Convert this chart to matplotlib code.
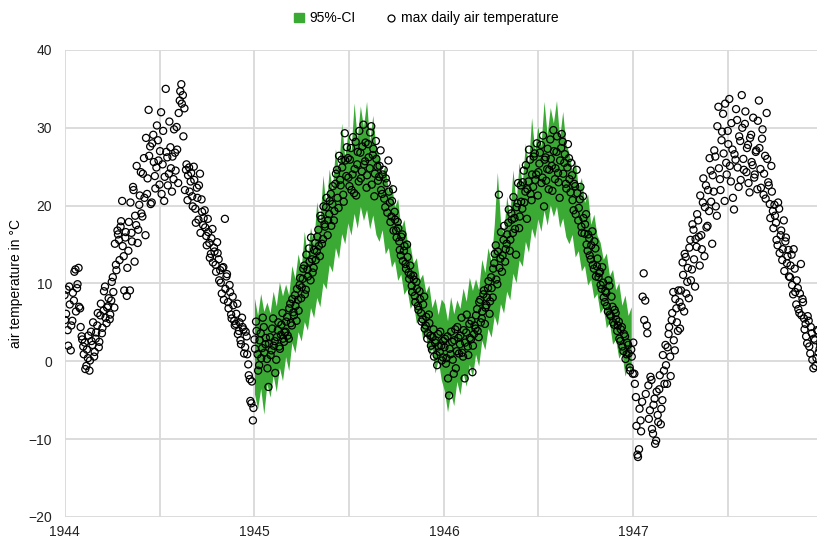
import pandas as pd
import matplotlib
matplotlib.use("Agg")
import matplotlib.pyplot as plt
from matplotlib.lines import Line2D
from matplotlib.patches import Patch

# max daily air temperature in deg C, readings every 3rd day (1 Jan, 4 Jan, ...)
temp_1944 = [
    8.5, 6.1, 4.0, 9.6, 1.4, 5.2, 7.8, 11.8, 9.4, 12.0,
    6.8, 3.2, 1.9, 2.4, -0.6, 0.4, -1.2, 3.8, 2.1, 0.6,
    2.9, 4.6, 1.8, 5.9, 3.6, 6.5, 9.6, 4.9, 7.1, 5.4,
    7.8, 10.8, 6.9, 12.4, 16.8, 15.6, 17.3, 20.6, 13.5, 15.9,
    8.4, 14.2, 9.1, 16.5, 22.4, 12.8, 17.5, 15.2, 20.1, 24.3,
    18.6, 26.1, 16.2, 21.5, 32.3, 27.6, 20.4, 29.1, 23.8, 24.9,
    28.4, 22.7, 32.0, 25.3, 20.6, 35.0, 26.2, 24.1, 27.5, 21.8,
    23.4, 26.8, 30.1, 22.9, 33.5, 35.6, 34.2, 32.5, 24.6, 20.7,
    24.9, 23.1, 21.2, 25.0, 19.6, 22.3, 18.2, 24.1, 20.8, 17.5,
    19.4, 16.1, 18.3, 15.2, 13.8, 17.0, 14.6, 12.4, 15.3, 13.1,
    11.7, 8.7, 12.1, 18.3, 10.9, 7.6, 9.8, 6.0, 8.3, 5.2,
    4.8, 7.4, 3.9, 2.7, 5.6, 4.1, 1.8, 3.2, -0.4, -2.3,
    -5.4, -7.6,
]
temp_1945 = [
    2.8, 5.1, 0.9, -0.5, 3.6, 1.7, 4.4, 2.2, 0.3, -3.3,
    3.1, 1.4, 5.5, 2.6, 0.2, 4.0, 1.9, 3.4, 6.2, 2.5,
    3.8, 5.7, 2.9, 7.4, 4.6, 6.3, 8.5, 5.2, 7.9, 9.8,
    8.1, 10.6, 12.3, 9.2, 11.8, 14.5, 10.4, 13.1, 12.0, 15.2,
    14.1, 16.9, 13.5, 18.3, 15.7, 17.6, 19.8, 16.2, 18.9, 21.5,
    20.2, 18.1, 22.8, 24.6, 19.7, 23.3, 25.9, 21.4, 29.3, 23.8,
    26.1, 22.5, 27.4, 24.0, 21.6, 28.2, 25.3, 23.1, 26.8, 24.4,
    30.4, 25.7, 22.3, 27.9, 24.8, 30.2, 26.5, 21.2, 28.3, 25.0,
    23.7, 27.1, 21.5, 24.6, 19.8, 22.9, 25.8, 20.4, 18.6, 22.1,
    19.2, 16.8, 17.9, 15.4, 13.6, 16.3, 14.2, 12.5, 15.0, 11.4,
    12.3, 9.7, 11.0, 8.4, 10.2, 7.1, 9.0, 6.2, 5.4, 8.3,
    4.6, 2.9, 6.0, 3.3, 1.5, 4.1, 2.4, 0.8, 3.5, 1.2,
    2.0, 0.5,
]
temp_1946 = [
    1.8, -0.3, 3.2, -4.4, 0.9, 2.5, -1.6, 4.1, 1.3, 3.0,
    2.2, 5.6, 0.6, -2.2, 3.7, 1.9, 4.8, 2.8, -1.4, 3.5,
    4.2, 6.7, 3.1, 7.9, 5.5, 8.6, 4.8, 7.2, 9.4, 6.1,
    10.8, 8.2, 12.6, 14.9, 9.9, 21.4, 13.2, 11.5, 15.6, 12.8,
    15.1, 17.8, 14.2, 19.0, 16.5, 18.4, 13.7, 20.3, 17.1, 22.6,
    19.6, 24.5, 21.8, 18.3, 23.1, 25.9, 20.7, 22.4, 26.7, 24.0,
    21.3, 25.4, 27.8, 23.6, 19.9, 26.2, 24.7, 22.1, 28.5, 25.1,
    29.7, 23.4, 26.9, 24.2, 21.0, 27.4, 28.2, 25.5, 22.8, 24.9,
    26.1, 21.7, 23.9, 19.4, 22.5, 24.6, 18.1, 20.8, 17.3, 21.2,
    16.4, 18.9, 14.2, 15.8, 13.1, 16.7, 11.9, 14.5, 12.2, 10.8,
    11.5, 9.3, 10.1, 7.6, 8.8, 6.4, 9.7, 5.8, 7.0, 4.7,
    6.2, 3.9, 5.1, 2.6, 4.4, 1.3, 3.2, 0.9, 2.1, -0.8,
    1.5, -1.6,
]
temp_1947 = [
    -1.6, -4.6, -12.0, -11.3, -7.6, -5.2, 11.3, 7.8, 4.6, -3.1,
    -6.3, -2.4, -9.3, -4.8, -10.2, -6.9, -3.6, -8.1, -5.0, -1.2,
    2.1, -2.9, 3.5, 0.6, 5.3, 8.9, 1.4, 6.8, 3.9, 7.6,
    9.1, 12.7, 6.4, 13.4, 10.2, 8.1, 15.6, 11.8, 16.9, 9.6,
    14.7, 18.1, 12.3, 16.2, 20.4, 13.5, 22.6, 17.4, 19.3, 24.5,
    15.1, 21.8, 26.3, 18.7, 32.7, 23.4, 28.4, 31.8, 20.6, 25.5,
    29.6, 33.7, 23.1, 27.2, 19.5, 25.9, 31.0, 22.4, 28.3, 34.2,
    26.0, 30.5, 24.3, 27.8, 21.7, 29.1, 25.2, 23.6, 26.9, 22.1,
    33.5, 24.7, 28.6, 21.4, 26.4, 31.9, 23.0, 20.2, 25.1, 19.3,
    20.1, 17.8, 14.9, 19.6, 16.2, 13.0, 18.1, 15.4, 12.6, 14.3,
    10.8, 13.7, 8.6, 11.9, 7.3, 9.4, 6.2, 12.5, 8.0, 5.5,
    4.8, 2.3, 5.2, 1.0, 3.6, -0.9, 2.7, 0.4, 3.9, 1.6,
    -1.2, 2.5,
]

# second run of readings, shifted by one day (2 Jan, 5 Jan, ...)
temp_b_1944 = [
    5.3, 9.2, 2.0, 7.3, 4.6, 8.8, 11.5, 6.4, 9.9, 7.0,
    4.4, 2.8, 0.9, -1.0, 1.5, 3.3, 0.1, 2.6, 5.0, 1.2,
    3.7, 6.2, 2.5, 7.4, 4.3, 9.0, 5.6, 6.9, 8.1, 6.0,
    10.2, 8.9, 15.1, 11.7, 16.3, 13.0, 18.0, 14.8, 9.1, 16.6,
    12.0, 17.9, 20.4, 15.4, 22.0, 18.7, 25.1, 16.9, 21.3, 19.0,
    24.1, 21.0, 28.7, 23.5, 26.4, 20.2, 28.0, 25.6, 22.2, 30.3,
    25.8, 27.0, 21.5, 29.6, 23.7, 26.9, 22.6, 30.8, 24.8, 26.3,
    29.8, 24.5, 27.2, 31.9, 34.7, 33.1, 28.9, 22.0, 25.3, 23.9,
    21.8, 24.2, 19.9, 23.3, 17.8, 21.0, 22.6, 16.5, 19.2, 18.4,
    17.2, 14.9, 16.6, 13.3, 15.8, 12.7, 14.1, 11.5, 13.9, 10.4,
    10.1, 12.0, 7.9, 9.3, 11.2, 6.8, 8.9, 5.5, 7.2, 4.6,
    6.1, 3.5, 5.0, 2.2, 4.4, 1.0, 3.8, 0.9, -1.8, -5.1,
    -2.6, -6.0,
]
temp_b_1945 = [
    1.6, 3.9, -1.2, 2.7, 0.4, 5.6, 1.1, 3.0, -0.9, 2.3,
    0.8, 4.2, 2.0, -1.5, 3.1, 5.0, 1.6, 4.7, 2.9, 3.7,
    5.1, 3.3, 6.8, 4.9, 8.0, 5.9, 7.1, 9.3, 6.5, 10.7,
    9.5, 11.9, 8.6, 13.7, 10.9, 12.8, 15.9, 11.4, 14.3, 13.0,
    16.0, 14.8, 18.7, 15.1, 19.9, 17.3, 21.0, 18.1, 20.6, 17.4,
    22.5, 19.3, 24.1, 21.0, 26.4, 22.6, 24.9, 20.5, 25.8, 27.5,
    23.6, 25.9, 22.0, 28.8, 24.7, 21.3, 26.9, 29.6, 23.5, 27.6,
    25.3, 28.1, 23.9, 26.2, 29.4, 22.7, 27.3, 24.1, 26.0, 23.2,
    25.1, 22.0, 24.0, 20.9, 23.5, 19.1, 21.8, 17.9, 20.6, 16.8,
    18.2, 15.9, 17.1, 14.3, 16.0, 12.9, 14.8, 11.9, 13.4, 10.6,
    11.1, 8.9, 10.5, 7.6, 9.3, 6.6, 8.0, 5.1, 7.3, 4.2,
    5.7, 3.6, 4.9, 2.0, 3.1, 0.6, 2.7, -0.5, 1.9, 3.8,
    0.1, 2.6,
]
temp_b_1946 = [
    2.9, 0.4, -2.2, 1.6, 3.8, 0.2, 2.7, -0.9, 4.4, 1.0,
    3.3, 1.1, 4.0, 2.4, 6.0, 0.8, 3.0, 5.2, 2.0, 4.6,
    5.9, 3.9, 7.6, 5.0, 6.4, 9.1, 6.9, 8.2, 10.3, 7.7,
    9.4, 11.9, 13.8, 10.5, 14.1, 12.0, 16.6, 13.6, 17.4, 14.4,
    16.3, 19.5, 15.6, 18.2, 21.1, 17.0, 19.8, 22.9, 18.6, 20.5,
    23.0, 20.4, 25.2, 22.1, 27.2, 21.5, 24.0, 26.3, 23.3, 28.0,
    24.3, 26.8, 22.9, 29.0, 25.9, 23.2, 27.3, 24.6, 26.0, 21.9,
    27.0, 24.8, 28.9, 23.0, 25.8, 29.2, 24.1, 26.6, 22.2, 27.9,
    23.4, 25.5, 20.7, 22.8, 18.9, 21.6, 19.7, 22.4, 16.5, 18.4,
    17.6, 15.0, 16.3, 13.6, 14.9, 12.4, 15.4, 10.9, 13.2, 11.3,
    9.8, 12.1, 8.2, 9.0, 7.1, 10.4, 6.0, 8.3, 5.0, 6.6,
    5.4, 4.6, 2.9, 4.1, 1.9, 3.5, 0.3, 2.4, 1.0, -1.2,
    0.6, 2.4,
]
temp_b_1947 = [
    -2.9, -8.3, -12.3, -6.1, -9.0, 8.3, 5.3, -4.2, 3.6, -7.4,
    -2.0, -8.7, -5.6, -10.6, -3.9, -7.8, -1.8, -6.1, 0.8, -2.9,
    -0.5, 1.8, 4.4, -1.9, 6.2, 2.7, 8.0, 5.0, 9.1, 4.2,
    7.0, 11.1, 13.8, 8.7, 12.0, 14.6, 10.4, 17.6, 13.1, 15.7,
    18.9, 16.0, 21.3, 14.4, 23.5, 19.8, 17.2, 22.0, 26.1, 20.5,
    23.9, 27.1, 19.9, 30.2, 24.8, 22.0, 29.5, 26.7, 33.1, 24.0,
    27.9, 25.1, 30.6, 21.0, 26.6, 32.4, 24.9, 28.9, 23.3, 30.0,
    24.6, 32.1, 27.4, 22.9, 28.7, 25.6, 31.3, 24.0, 27.1, 30.9,
    27.4, 22.3, 29.8, 24.1, 20.9, 26.0, 22.6, 18.4, 21.8, 17.1,
    18.7, 15.6, 20.4, 13.9, 16.8, 14.4, 11.6, 15.9, 13.5, 10.9,
    12.3, 9.8, 14.4, 8.9, 10.4, 6.7, 8.7, 5.9, 7.6, 4.1,
    3.2, 5.8, 1.9, 4.4, 0.2, 2.9, -0.6, 4.0, 1.1, 2.2,
    0.5, -1.0,
]

# 95% confidence band 1945-1946, one value every 6th day
ci_lo = [
    -4.2, -6.1, -3.5, -6.8, -2.9, -4.6, -1.8, -3.9, -0.8, -2.5,
    0.6, -1.2, 2.4, 1.1, 3.8, 2.6, 5.1, 4.0, 6.9, 5.6,
    8.2, 7.0, 10.1, 9.3, 12.4, 11.5, 14.6, 13.2, 16.4, 15.1,
    17.8, 16.2, 19.0, 17.1, 19.9, 18.1, 19.5, 17.0, 18.8, 16.3,
    15.4, 16.9, 13.8, 14.6, 12.1, 12.9, 10.4, 11.2, 8.6, 9.3,
    6.8, 7.5, 4.9, 5.6, 2.8, 3.4, 0.9, 1.6, -1.5, 0.2,
    -2.4,
    -3.8, -6.5, -4.1, -5.7, -2.6, -4.3, -1.5, -3.2, -0.4, -2.0,
    0.9, -0.6, 2.7, 1.5, 4.2, 3.1, 5.8, 4.6, 7.4, 6.2,
    9.0, 7.9, 11.3, 10.1, 13.0, 12.2, 15.4, 14.0, 17.1, 15.8,
    18.3, 16.7, 19.4, 17.5, 20.1, 18.6, 19.9, 17.2, 18.4, 16.0,
    15.1, 16.3, 13.4, 14.2, 11.6, 12.3, 9.8, 10.5, 8.1, 8.7,
    6.2, 6.9, 4.3, 5.0, 2.2, 2.8, 0.4, 1.1, -1.9, -0.6,
    -1.6,
]
ci_hi = [
    8.1, 5.9, 8.7, 6.4, 7.6, 6.2, 9.0, 7.1, 10.2, 8.4,
    9.9, 8.5, 12.3, 10.6, 13.8, 11.9, 16.7, 13.4, 17.2, 15.0,
    20.5, 17.8, 23.9, 19.6, 24.7, 22.1, 27.3, 24.4, 30.6, 26.2,
    29.4, 27.0, 33.2, 28.5, 32.8, 30.1, 33.4, 28.2, 31.6, 27.4,
    26.4, 24.1, 25.3, 21.8, 22.9, 19.8, 20.9, 17.1, 18.2, 15.6,
    14.9, 12.6, 13.3, 10.5, 11.2, 8.9, 9.8, 6.9, 8.1, 6.0,
    8.0,
    7.4, 5.2, 8.3, 6.1, 7.9, 6.8, 9.4, 7.7, 10.8, 9.1,
    10.6, 9.2, 13.1, 11.4, 14.6, 12.8, 17.5, 24.3, 18.0, 16.1,
    21.2, 18.6, 24.6, 20.3, 25.5, 22.8, 28.0, 25.1, 31.3, 27.0,
    30.2, 27.6, 33.4, 29.1, 32.6, 30.6, 33.5, 28.7, 32.1, 27.9,
    26.8, 24.5, 25.9, 22.3, 23.6, 20.4, 21.5, 17.6, 18.9, 16.2,
    15.3, 13.1, 13.9, 11.0, 11.8, 9.2, 10.1, 7.2, 8.5, 5.9,
    7.0,
]

years = [1944, 1945, 1946, 1947]
green = "#3aaa35"

temps = temp_1944 + temp_1945 + temp_1946 + temp_1947
temps_b = temp_b_1944 + temp_b_1945 + temp_b_1946 + temp_b_1947
days = pd.date_range("1944-01-01", periods=len(temps), freq="3D")
days_b = pd.date_range("1944-01-02", periods=len(temps_b), freq="3D")
ci_days = pd.date_range("1945-01-01", periods=len(ci_lo), freq="6D")

fig = plt.figure(figsize=(8.17, 5.43), dpi=100)
plt.rcParams["font.family"] = ["Liberation Sans", "DejaVu Sans"]
ax = fig.add_axes([0.079, 0.048, 0.928, 0.860])

ax.fill_between(ci_days, ci_lo, ci_hi, color=green, lw=0, zorder=2)
for d, t in [(days, temps), (days_b, temps_b)]:
    ax.scatter(d, t, s=26, facecolors="none", edgecolors="black",
               linewidths=0.9, zorder=3)

ax.set_xlim(pd.Timestamp("1944-01-01"), pd.Timestamp("1948-01-01"))
ax.set_ylim(-20, 40)
ax.set_yticks(range(-20, 41, 10))
ax.set_xticks([pd.Timestamp(f"{y}-01-01") for y in years])
ax.set_xticklabels([str(y) for y in years])
ax.set_xticks([pd.Timestamp(f"{y}-07-02") for y in years], minor=True)
ax.grid(which="both", color="#d9d9d9", lw=1.3, zorder=0)
ax.set_axisbelow(True)
ax.tick_params(which="both", length=0, labelsize=10, colors="#222222")
ax.tick_params(axis="y", pad=9)
ax.tick_params(axis="x", pad=6)
for s in ax.spines.values():
    s.set_visible(False)
ax.set_ylabel("air temperature in °C", fontsize=10, labelpad=4)

handles = [
    Patch(color=green, label="95%-CI"),
    Line2D([], [], ls="none", marker="o", ms=5, mfc="none", mec="black",
           mew=0.9, label="max daily air temperature"),
]
fig.legend(handles=handles, loc="center", bbox_to_anchor=(0.522, 0.966),
           ncol=2, frameon=False, fontsize=10, handlelength=0.7,
           handletextpad=0.4, columnspacing=2.2)

fig.savefig("out.png", dpi=100)
